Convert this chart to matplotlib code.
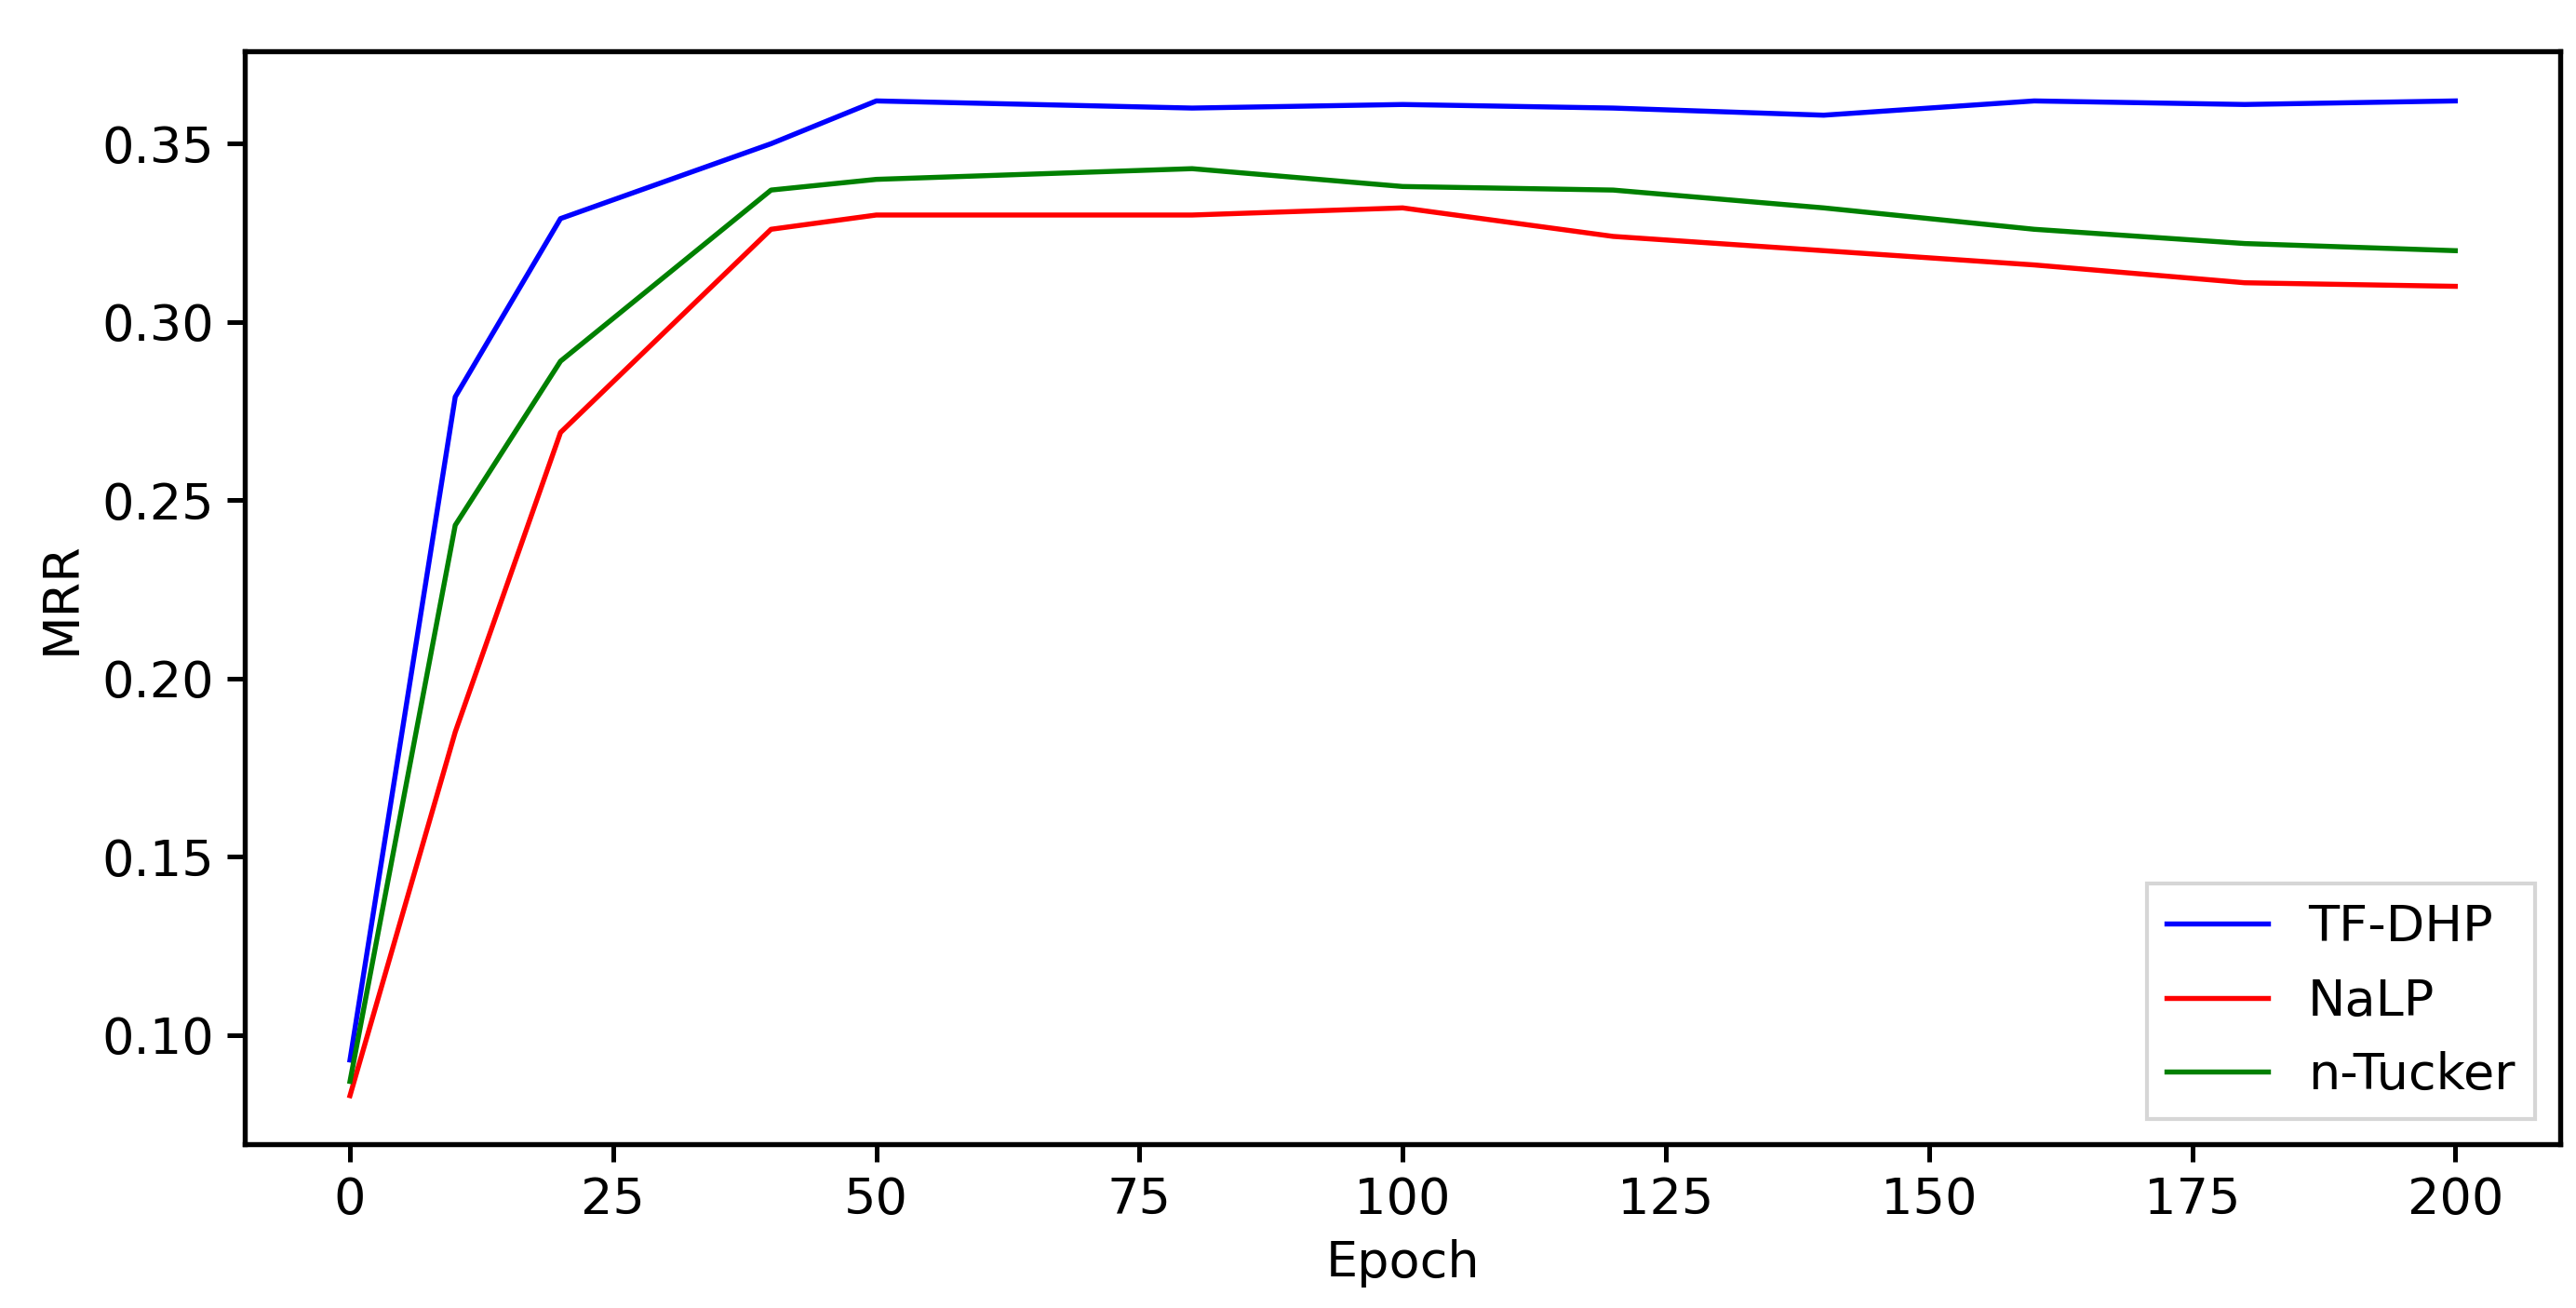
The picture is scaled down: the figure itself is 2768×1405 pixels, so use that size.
import matplotlib
matplotlib.use("Agg")
import matplotlib.pyplot as plt

epochs = [0, 10, 20, 40, 50, 80, 100, 120, 140, 160, 180, 200]
tf_dhp = [0.093, 0.279, 0.329, 0.350, 0.362, 0.360, 0.361, 0.360, 0.358, 0.362, 0.361, 0.362]
nalp = [0.083, 0.185, 0.269, 0.326, 0.330, 0.330, 0.332, 0.324, 0.320, 0.316, 0.311, 0.310]
ntucker = [0.087, 0.243, 0.289, 0.337, 0.340, 0.343, 0.338, 0.337, 0.332, 0.326, 0.322, 0.320]

plt.rcParams.update({"font.size": 13, "axes.linewidth": 1.3,
                     "xtick.major.width": 1.2, "ytick.major.width": 1.2,
                     "xtick.major.size": 4.5, "ytick.major.size": 4.5})
fig = plt.figure(figsize=(2768/300, 1405/300), dpi=300)
ax = fig.add_axes([0.095, 0.125, 0.899, 0.836])
ax.plot(epochs, tf_dhp, color="blue", label="TF-DHP", lw=1.3)
ax.plot(epochs, nalp, color="red", label="NaLP", lw=1.3)
ax.plot(epochs, ntucker, color="green", label="n-Tucker", lw=1.3)
ax.set_ylim(0.0693, 0.376)
ax.set_xlabel("Epoch")
ax.set_ylabel("MRR")
leg = ax.legend(loc="lower right", fancybox=False)
fig.savefig("out.png", dpi=300)
